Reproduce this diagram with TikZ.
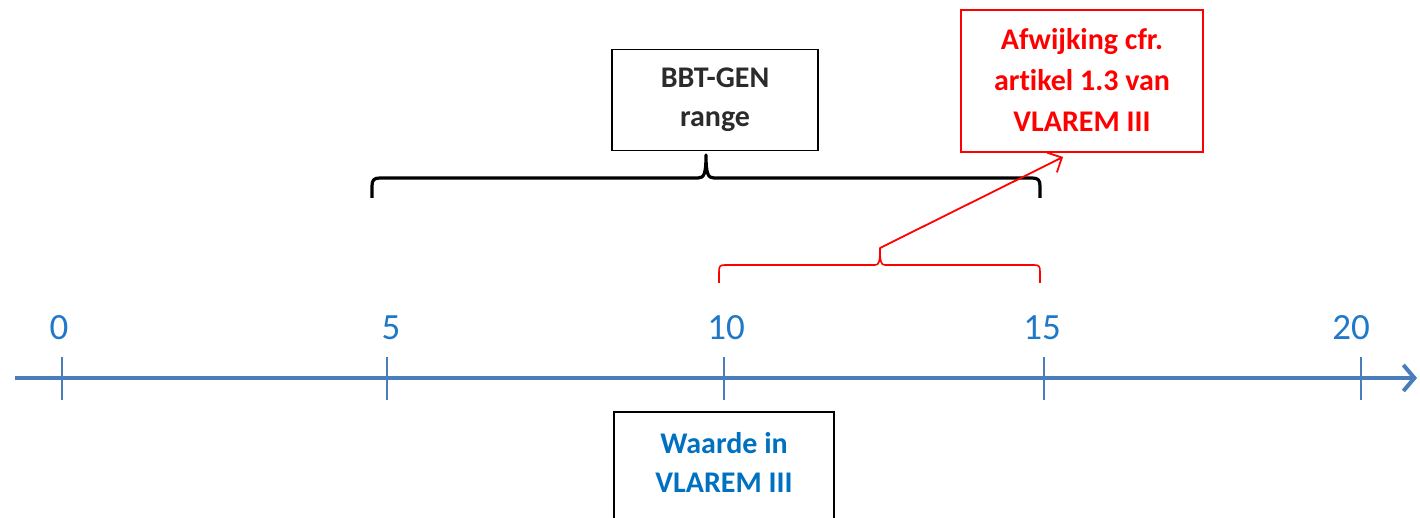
\documentclass[tikz,border=0pt]{standalone}
\usepackage{fontspec}
\setmainfont{Carlito}[Ligatures=NoCommon]
\usetikzlibrary{arrows.meta}

\definecolor{axisblue}{HTML}{4A7EBB}
\definecolor{numblue}{HTML}{1F78C8}
\definecolor{textblue}{HTML}{0070C0}
\definecolor{textgray}{HTML}{2B2B2B}
\definecolor{markred}{HTML}{FF0000}

\begin{document}
\begin{tikzpicture}[x=1pt,y=-1pt,
  axisline/.style={draw=axisblue,line width=4pt},
  tickline/.style={draw=axisblue,line width=1.6pt},
  ticklabel/.style={anchor=base,text=numblue,inner sep=0pt,font=\fontsize{37}{42}\selectfont},
  labelbox/.style={draw,line width=1.5pt,inner sep=0pt,align=center,font=\bfseries\fontsize{30}{39}\selectfont},
  bigbrace/.style={draw=black,line width=3.2pt,line join=round},
  smallbrace/.style={draw=markred,line width=1.6pt,line join=round},
  pointer/.style={draw=markred,line width=1.8pt,-{Straight Barb[length=11pt,width=22pt,line width=1.8pt]}}
]
\useasboundingbox (0,0) rectangle (1420,518);

% number line
\coordinate (axL) at (15,378);
\coordinate (axR) at (1417,378);
\draw[axisline,-{Straight Barb[length=11pt,width=26pt,line width=4pt]}] (axL) -- (axR);

% ticks and their values
\foreach \tx/\lx/\val [count=\i] in {62/59/0, 387/391/5, 724/726/10, 1044/1042/15, 1361/1351/20}{
  \coordinate (tickTop\i) at (\tx,357);
  \coordinate (tickBot\i) at (\tx,400);
  \draw[tickline] (tickTop\i) -- (tickBot\i);
  \node[ticklabel] (val\i) at (\lx,339) {\val};
}

% range boxes
\node[labelbox,draw=black,text=textgray,minimum width=206pt,minimum height=101pt]
  (bbt) at (715,100) {BBT-GEN\\range};
\node[labelbox,draw=markred,text=markred,minimum width=242pt,minimum height=142pt,
  font=\bfseries\fontsize{30}{41}\selectfont,text depth=3pt]
  (afw) at (1082,81) {Afwijking cfr.\\artikel 1.3 van\\VLAREM III};
\node[labelbox,draw=black,text=textblue,minimum width=220pt,minimum height=130pt,text depth=30pt]
  (waarde) at (724,477) {Waarde in\\VLAREM III};

% brace spanning 5 .. 15
\coordinate (bL) at (372,198);
\coordinate (bT) at (706,155);
\coordinate (bR) at (1040,198);
\draw[bigbrace] (bL) -- (372,186) .. controls (372,180) and (374,178) .. (380,178)
  -- (698,178) .. controls (704,178) and (706,174) .. (bT)
  .. controls (706,174) and (708,178) .. (714,178)
  -- (1032,178) .. controls (1038,178) and (1040,180) .. (1040,186) -- (bR);

% brace spanning 10 .. 15
\coordinate (rL) at (719,283);
\coordinate (rT) at (880,248);
\coordinate (rR) at (1040,283);
\draw[smallbrace] (rL) -- (719,272) .. controls (719,266) and (720,265) .. (725,265)
  -- (875,265) .. controls (879,265) and (880,262) .. (rT)
  .. controls (880,262) and (881,265) .. (885,265)
  -- (1034,265) .. controls (1039,265) and (1040,266) .. (1040,272) -- (rR);

% pointer to the deviation note
\coordinate (arrowEnd) at (1063,157);
\draw[pointer] (rT) -- (arrowEnd);
\end{tikzpicture}
\end{document}
